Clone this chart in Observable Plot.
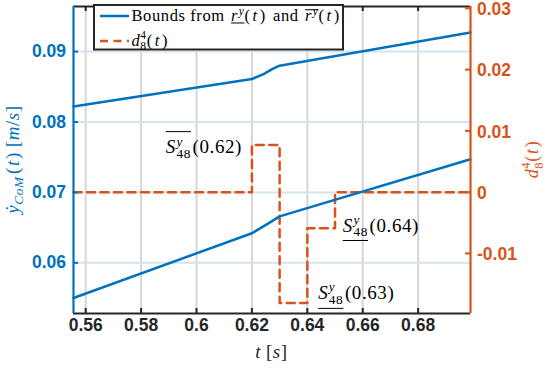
<!DOCTYPE html>
<html><head><meta charset="utf-8">
<script src="https://cdn.jsdelivr.net/npm/d3@7"></script>
<script src="https://cdn.jsdelivr.net/npm/@observablehq/plot@0.6"></script>
<style>body{margin:0;background:#fff;} svg{overflow:visible}</style>
</head><body><div id="chart"></div>
<script>
// ---- data ----
const upperT = [0.5556, 0.62, 0.6242, 0.6273, 0.63, 0.6989];
const upperV = [0.0822, 0.0861, 0.0868, 0.0875, 0.0880, 0.0927];
const lowerT = [0.5556, 0.62, 0.6255, 0.63, 0.6989];
const lowerV = [0.0550, 0.0642, 0.0655, 0.0666, 0.0747];
const dT = [0.5556, 0.62, 0.63, 0.64, 0.65, 0.6989];
const dV = [0, 0.0077, -0.0181, -0.0059, 0, 0];
const xTicks = [0.56, 0.58, 0.60, 0.62, 0.64, 0.66, 0.68];
const xTickLabels = ["0.56", "0.58", "0.6", "0.62", "0.64", "0.66", "0.68"];
const leftTicks = [0.06, 0.07, 0.08, 0.09];
const leftTickLabels = ["0.06", "0.07", "0.08", "0.09"];
const rightTicks = [-0.01, 0, 0.01, 0.02, 0.03];
const rightTickLabels = ["-0.01", "0", "0.01", "0.02", "0.03"];
const annArgs = ["0.62", "0.63", "0.64"];
const annBars = ["over", "under", "under"];
const annX = [0.5891, 0.6441, 0.6530];       // label anchors (t)
const annD = [0.00623, -0.01759, -0.00651];  // label baselines (right-axis units)

const xDomain = [0.5556, 0.6989];
const leftDomain = [0.0528, 0.0964];
const rightDomain = [-0.0198, 0.0303];
const toLeft = d3.scaleLinear(rightDomain, leftDomain);

const blue = "#0072BD", orange = "#D95319", ink = "#262626";
const serif = "'Liberation Serif', 'Times New Roman', serif";
const sans = "'Liberation Sans', Arial, sans-serif";
const W = 550, H = 370, mL = 73, mR = 80, mT = 6, mB = 57;
const pW = W - mL - mR, pH = H - mT - mB;

const upper = upperT.map((t, i) => ({t, v: upperV[i]}));
const lower = lowerT.map((t, i) => ({t, v: lowerV[i]}));
const dData = dT.map((t, i) => ({t, v: toLeft(dV[i])}));
const xLab = xTicks.map((v, i) => ({v, s: xTickLabels[i]}));
const lLab = leftTicks.map((v, i) => ({v, s: leftTickLabels[i]}));
const rLab = rightTicks.map((v, i) => ({v: toLeft(v), s: rightTickLabels[i]}));
const tickFont = {fontFamily: sans, fontWeight: "bold", fontSize: 17.5};

const plot = Plot.plot({
  width: W, height: H, marginLeft: mL, marginRight: mR, marginTop: mT, marginBottom: mB,
  x: {domain: xDomain, axis: null},
  y: {domain: leftDomain, axis: null},
  style: {background: "#fff", fontFamily: sans},
  marks: [
    Plot.ruleX(xTicks, {stroke: "#d6d6d6", strokeWidth: 2}),
    Plot.ruleY(leftTicks, {stroke: "#d3e4f2", strokeWidth: 2}),
    Plot.line(dData, {x: "t", y: "v", curve: "step-after", stroke: orange, strokeWidth: 2.5, strokeDasharray: "8,5.5"}),
    Plot.line(upper, {x: "t", y: "v", stroke: blue, strokeWidth: 2.5}),
    Plot.line(lower, {x: "t", y: "v", stroke: blue, strokeWidth: 2.5}),
    Plot.ruleY([leftDomain[0]], {stroke: ink, strokeWidth: 2}),
    Plot.ruleY([leftDomain[1]], {stroke: ink, strokeWidth: 2}),
    Plot.tickX(xTicks, {x: d => d, stroke: ink, strokeWidth: 2, insetTop: pH - 5}),
    Plot.tickX(xTicks, {x: d => d, stroke: ink, strokeWidth: 2, insetBottom: pH - 5}),
    Plot.tickY(leftTicks, {y: d => d, stroke: blue, strokeWidth: 2, insetRight: pW - 5}),
    Plot.tickY(rightTicks, {y: d => toLeft(d), stroke: orange, strokeWidth: 2, insetLeft: pW - 5}),
    Plot.ruleX([xDomain[0]], {stroke: blue, strokeWidth: 2.2}),
    Plot.ruleX([xDomain[1]], {stroke: orange, strokeWidth: 2.2}),
    Plot.text(xLab, {x: "v", text: "s", frameAnchor: "bottom", dy: 17, fill: ink, ...tickFont}),
    Plot.text(lLab, {y: "v", text: "s", frameAnchor: "left", dx: -7.5, textAnchor: "end", fill: blue, ...tickFont}),
    Plot.text(rLab, {y: "v", text: "s", frameAnchor: "right", dx: 6.5, dy: 1, textAnchor: "start", fill: orange, ...tickFont})
  ]
});
document.getElementById("chart").appendChild(plot);

const svg = d3.select(plot);
const sx = plot.scale("x"), sy = plot.scale("y");

function rich(g, x, y, parts, size, fill, ls = 0.6) {
  let cx = x;
  function txt(str, px, py, sz, it) {
    const t = g.append("text").attr("x", px).attr("y", py).attr("font-size", sz)
      .attr("font-family", serif).attr("fill", fill).attr("letter-spacing", ls)
      .attr("text-anchor", "start")
      .style("font-style", it ? "italic" : "normal").style("white-space", "pre").text(str);
    return t.node().getComputedTextLength();
  }
  function run(ps) {
    for (const p of ps) {
      if (p.t !== undefined) cx += txt(p.t, cx, y, size, p.i);
      else if (p.sp) cx += p.sp * size;
      else if (p.g) {
        const x0 = cx; run(p.g);
        const ly = p.line === "over" ? y - p.off * size : y + p.off * size;
        g.append("line").attr("x1", x0).attr("x2", cx).attr("y1", ly).attr("y2", ly)
          .attr("stroke", fill).attr("stroke-width", 1);
      } else {
        const x0 = cx; let w = 0;
        if (p.sup !== undefined) w = Math.max(w, txt(p.sup, x0, y - (p.supUp ?? 0.42) * size, size * 0.7, p.supI));
        if (p.sub !== undefined) w = Math.max(w, txt(p.sub, x0, y + (p.subDn ?? 0.25) * size, size * 0.7, p.subI));
        cx = x0 + w;
      }
    }
  }
  run(parts);
  return cx - x;
}
function centered(x, y, parts, size, fill, rotate) {
  const g = svg.append("g").attr("transform", `translate(${x},${y})${rotate ? " rotate(-90)" : ""}`);
  const inner = g.append("g");
  const w = rich(inner, 0, 0, parts, size, fill);
  inner.attr("transform", `translate(${-w / 2},0)`);
}
const paren = (s, gap = 0) => [{t: "("}, {sp: gap}, {t: s, i: true}, {sp: gap}, {t: ")"}];

// annotations
annArgs.forEach((a, i) => {
  const g = svg.append("g");
  const S = [{t: "S", i: true}, {sp: 0.03}, {sup: "y", supI: true, sub: "48"}];
  rich(g, sx.apply(annX[i]), sy.apply(toLeft(annD[i])),
    [{g: S, line: annBars[i], off: annBars[i] === "over" ? 1.15 : 0.47}, {sp: 0.08}, {t: "(" + a + ")"}], 19, "#000");
});

// axis labels
centered(19, mT + pH / 2, [{t: "ẏ", i: true}, {sub: "CoM", subI: true, subDn: 0.2}, {sp: 0.12}, ...paren("t", 0.06), {sp: 0.25},
  {t: "["}, {t: "m", i: true}, {t: "/"}, {t: "s", i: true}, {t: "]"}], 19, blue, true);
centered(538, mT + pH / 2, [{t: "d", i: true}, {sup: "4", sub: "8"}, ...paren("t", 0.06)], 18, orange, true);
centered(mL + pW / 2, 358, [{t: "t", i: true}, {sp: 0.25}, {t: "["}, {t: "s", i: true}, {t: "]"}], 19, ink, false);

// legend
const lg = svg.append("g");
lg.append("rect").attr("x", 94).attr("y", 5).attr("width", 249).attr("height", 44.5)
  .attr("fill", "#fff").attr("stroke", ink).attr("stroke-width", 2);
lg.append("line").attr("x1", 100).attr("x2", 129).attr("y1", 16).attr("y2", 16).attr("stroke", blue).attr("stroke-width", 2.5);
lg.append("line").attr("x1", 100).attr("x2", 129).attr("y1", 41).attr("y2", 41).attr("stroke", orange)
  .attr("stroke-width", 2.5).attr("stroke-dasharray", "8,5.5");
const rY = [{t: "r", i: true}, {sp: 0.04}, {sup: "y", supI: true, supUp: 0.38}];
rich(lg, 131.5, 21, [{t: "Bounds from "}, {sp: 0.1}, {g: rY, line: "under", off: 0.12}, ...paren("t", 0.12), {sp: 0.15}, {t: " and "}, {sp: 0.1},
  {g: rY, line: "over", off: 0.68}, ...paren("t", 0.12)], 16.5, "#000");
rich(lg, 131.5, 46, [{t: "d", i: true}, {sup: "4", sub: "8"}, ...paren("t", 0.12)], 16.5, "#000");
</script></body></html>
